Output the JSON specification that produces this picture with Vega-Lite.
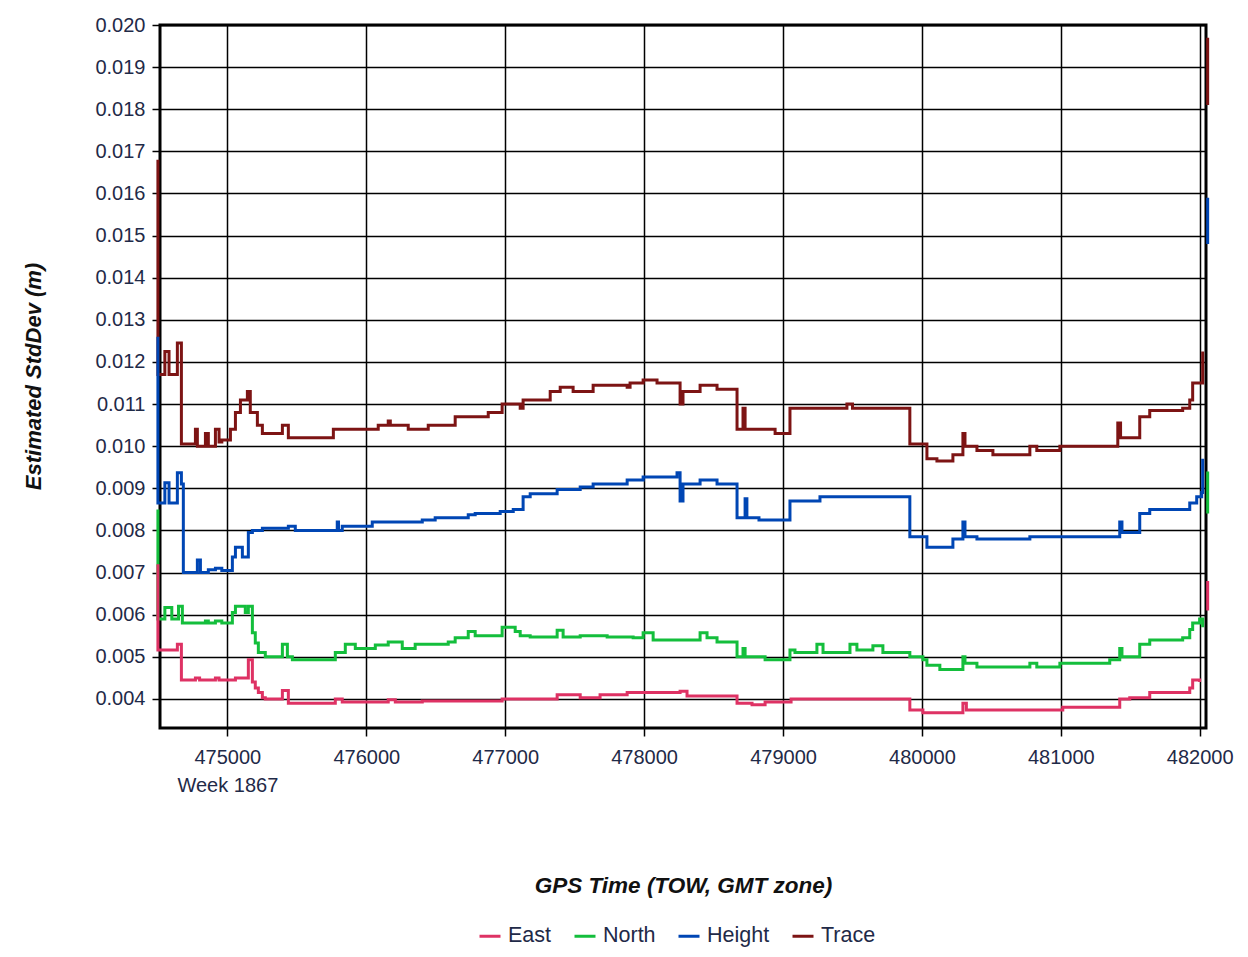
{
  "$schema": "https://vega.github.io/schema/vega-lite/v6.json",
  "width": 1046,
  "height": 703,
  "autosize": {"type": "none"},
  "padding": {"left": 160, "top": 25, "right": 42, "bottom": 229},
  "background": "white",
  "config": {
    "font": "Liberation Sans",
    "view": {"stroke": "#000000", "strokeWidth": 3},
    "axis": {"labelFont": "Liberation Sans", "titleFont": "Liberation Sans"}
  },
  "data": {
    "values": [
      {"s":"Trace","t":474500,"v":0.0168},{"s":"Trace","t":474500,"v":0.0117},{"s":"Trace","t":474550,"v":0.01225},{"s":"Trace","t":474580,"v":0.0117},{"s":"Trace","t":474640,"v":0.01245},{"s":"Trace","t":474669,"v":0.01005},{"s":"Trace","t":474770,"v":0.0104},{"s":"Trace","t":474784,"v":0.0100},{"s":"Trace","t":474842,"v":0.0103},{"s":"Trace","t":474863,"v":0.0100},{"s":"Trace","t":474914,"v":0.0104},{"s":"Trace","t":474940,"v":0.0101},{"s":"Trace","t":474960,"v":0.01015},{"s":"Trace","t":475022,"v":0.0104},{"s":"Trace","t":475058,"v":0.0108},{"s":"Trace","t":475094,"v":0.0111},{"s":"Trace","t":475144,"v":0.0113},{"s":"Trace","t":475165,"v":0.0108},{"s":"Trace","t":475216,"v":0.0105},{"s":"Trace","t":475252,"v":0.0103},{"s":"Trace","t":475396,"v":0.0105},{"s":"Trace","t":475439,"v":0.0102},{"s":"Trace","t":475763,"v":0.0104},{"s":"Trace","t":476086,"v":0.0105},{"s":"Trace","t":476158,"v":0.0106},{"s":"Trace","t":476173,"v":0.0105},{"s":"Trace","t":476302,"v":0.0104},{"s":"Trace","t":476446,"v":0.0105},{"s":"Trace","t":476640,"v":0.0107},{"s":"Trace","t":476878,"v":0.0108},{"s":"Trace","t":476978,"v":0.0110},{"s":"Trace","t":477108,"v":0.0109},{"s":"Trace","t":477129,"v":0.0111},{"s":"Trace","t":477324,"v":0.0113},{"s":"Trace","t":477396,"v":0.0114},{"s":"Trace","t":477489,"v":0.0113},{"s":"Trace","t":477633,"v":0.01145},{"s":"Trace","t":477878,"v":0.0114},{"s":"Trace","t":477899,"v":0.0115},{"s":"Trace","t":477993,"v":0.01157},{"s":"Trace","t":478093,"v":0.0115},{"s":"Trace","t":478259,"v":0.0110},{"s":"Trace","t":478280,"v":0.0113},{"s":"Trace","t":478403,"v":0.01145},{"s":"Trace","t":478525,"v":0.01135},{"s":"Trace","t":478669,"v":0.0104},{"s":"Trace","t":478712,"v":0.0109},{"s":"Trace","t":478727,"v":0.0104},{"s":"Trace","t":478943,"v":0.0103},{"s":"Trace","t":479050,"v":0.0109},{"s":"Trace","t":479460,"v":0.0110},{"s":"Trace","t":479500,"v":0.0109},{"s":"Trace","t":479913,"v":0.01005},{"s":"Trace","t":480036,"v":0.0097},{"s":"Trace","t":480108,"v":0.00965},{"s":"Trace","t":480223,"v":0.0098},{"s":"Trace","t":480295,"v":0.0103},{"s":"Trace","t":480310,"v":0.0100},{"s":"Trace","t":480396,"v":0.0099},{"s":"Trace","t":480511,"v":0.0098},{"s":"Trace","t":480777,"v":0.0100},{"s":"Trace","t":480827,"v":0.0099},{"s":"Trace","t":480993,"v":0.0100},{"s":"Trace","t":481410,"v":0.01055},{"s":"Trace","t":481430,"v":0.0102},{"s":"Trace","t":481568,"v":0.0107},{"s":"Trace","t":481640,"v":0.01085},{"s":"Trace","t":481877,"v":0.0109},{"s":"Trace","t":481928,"v":0.0111},{"s":"Trace","t":481949,"v":0.0115},{"s":"Trace","t":482021,"v":0.01225},{"s":"Trace","t":482040,"v":null},{"s":"Trace","t":482057,"v":0.0181},{"s":"Trace","t":482057,"v":0.0197},

      {"s":"Height","t":474500,"v":0.0126},{"s":"Height","t":474500,"v":0.00865},{"s":"Height","t":474550,"v":0.00913},{"s":"Height","t":474580,"v":0.00865},{"s":"Height","t":474640,"v":0.00937},{"s":"Height","t":474669,"v":0.0091},{"s":"Height","t":474683,"v":0.0070},{"s":"Height","t":474784,"v":0.0073},{"s":"Height","t":474806,"v":0.0070},{"s":"Height","t":474863,"v":0.00707},{"s":"Height","t":474914,"v":0.0071},{"s":"Height","t":474960,"v":0.00705},{"s":"Height","t":475036,"v":0.00737},{"s":"Height","t":475058,"v":0.0076},{"s":"Height","t":475108,"v":0.00737},{"s":"Height","t":475151,"v":0.00795},{"s":"Height","t":475180,"v":0.0080},{"s":"Height","t":475252,"v":0.00805},{"s":"Height","t":475439,"v":0.0081},{"s":"Height","t":475489,"v":0.0080},{"s":"Height","t":475791,"v":0.0082},{"s":"Height","t":475800,"v":0.0080},{"s":"Height","t":475827,"v":0.0081},{"s":"Height","t":476043,"v":0.0082},{"s":"Height","t":476403,"v":0.00825},{"s":"Height","t":476496,"v":0.0083},{"s":"Height","t":476734,"v":0.00837},{"s":"Height","t":476784,"v":0.0084},{"s":"Height","t":476964,"v":0.00845},{"s":"Height","t":477058,"v":0.0085},{"s":"Height","t":477129,"v":0.0088},{"s":"Height","t":477180,"v":0.00887},{"s":"Height","t":477374,"v":0.00897},{"s":"Height","t":477540,"v":0.00903},{"s":"Height","t":477633,"v":0.0091},{"s":"Height","t":477878,"v":0.0092},{"s":"Height","t":477993,"v":0.00927},{"s":"Height","t":478237,"v":0.00937},{"s":"Height","t":478259,"v":0.0087},{"s":"Height","t":478280,"v":0.0091},{"s":"Height","t":478403,"v":0.0092},{"s":"Height","t":478525,"v":0.0091},{"s":"Height","t":478669,"v":0.0083},{"s":"Height","t":478727,"v":0.00875},{"s":"Height","t":478740,"v":0.0083},{"s":"Height","t":478827,"v":0.00825},{"s":"Height","t":479050,"v":0.0087},{"s":"Height","t":479266,"v":0.0088},{"s":"Height","t":479913,"v":0.00785},{"s":"Height","t":480036,"v":0.0076},{"s":"Height","t":480223,"v":0.0078},{"s":"Height","t":480295,"v":0.0082},{"s":"Height","t":480310,"v":0.00785},{"s":"Height","t":480396,"v":0.0078},{"s":"Height","t":480777,"v":0.00785},{"s":"Height","t":481424,"v":0.0082},{"s":"Height","t":481440,"v":0.00795},{"s":"Height","t":481568,"v":0.0084},{"s":"Height","t":481640,"v":0.0085},{"s":"Height","t":481928,"v":0.00865},{"s":"Height","t":481978,"v":0.0088},{"s":"Height","t":482014,"v":0.0089},{"s":"Height","t":482021,"v":0.0097},{"s":"Height","t":482040,"v":null},{"s":"Height","t":482057,"v":0.0148},{"s":"Height","t":482057,"v":0.0159},

      {"s":"North","t":474500,"v":0.0085},{"s":"North","t":474500,"v":0.0059},{"s":"North","t":474550,"v":0.00617},{"s":"North","t":474600,"v":0.0059},{"s":"North","t":474648,"v":0.0062},{"s":"North","t":474676,"v":0.0058},{"s":"North","t":474842,"v":0.00585},{"s":"North","t":474863,"v":0.0058},{"s":"North","t":474914,"v":0.00585},{"s":"North","t":474960,"v":0.0058},{"s":"North","t":475036,"v":0.00605},{"s":"North","t":475058,"v":0.0062},{"s":"North","t":475129,"v":0.00605},{"s":"North","t":475151,"v":0.0062},{"s":"North","t":475180,"v":0.00557},{"s":"North","t":475201,"v":0.00533},{"s":"North","t":475223,"v":0.0051},{"s":"North","t":475273,"v":0.0050},{"s":"North","t":475396,"v":0.0053},{"s":"North","t":475432,"v":0.0050},{"s":"North","t":475468,"v":0.00493},{"s":"North","t":475777,"v":0.0051},{"s":"North","t":475849,"v":0.0053},{"s":"North","t":475921,"v":0.0052},{"s":"North","t":476065,"v":0.00528},{"s":"North","t":476158,"v":0.00535},{"s":"North","t":476259,"v":0.0052},{"s":"North","t":476352,"v":0.0053},{"s":"North","t":476590,"v":0.00535},{"s":"North","t":476640,"v":0.00545},{"s":"North","t":476734,"v":0.0056},{"s":"North","t":476784,"v":0.0055},{"s":"North","t":476978,"v":0.0057},{"s":"North","t":477072,"v":0.0056},{"s":"North","t":477108,"v":0.0055},{"s":"North","t":477180,"v":0.00547},{"s":"North","t":477374,"v":0.00563},{"s":"North","t":477417,"v":0.00547},{"s":"North","t":477540,"v":0.0055},{"s":"North","t":477734,"v":0.00547},{"s":"North","t":477921,"v":0.00545},{"s":"North","t":477993,"v":0.00557},{"s":"North","t":478065,"v":0.0054},{"s":"North","t":478403,"v":0.00557},{"s":"North","t":478453,"v":0.00545},{"s":"North","t":478525,"v":0.00535},{"s":"North","t":478669,"v":0.0050},{"s":"North","t":478712,"v":0.0052},{"s":"North","t":478727,"v":0.0050},{"s":"North","t":478871,"v":0.00493},{"s":"North","t":479050,"v":0.00516},{"s":"North","t":479086,"v":0.0051},{"s":"North","t":479244,"v":0.0053},{"s":"North","t":479288,"v":0.0051},{"s":"North","t":479482,"v":0.0053},{"s":"North","t":479532,"v":0.00516},{"s":"North","t":479647,"v":0.00526},{"s":"North","t":479719,"v":0.0051},{"s":"North","t":479913,"v":0.0050},{"s":"North","t":480007,"v":0.00493},{"s":"North","t":480036,"v":0.0048},{"s":"North","t":480129,"v":0.0047},{"s":"North","t":480295,"v":0.0050},{"s":"North","t":480310,"v":0.00485},{"s":"North","t":480396,"v":0.00476},{"s":"North","t":480777,"v":0.00485},{"s":"North","t":480827,"v":0.00476},{"s":"North","t":480993,"v":0.00485},{"s":"North","t":481352,"v":0.00493},{"s":"North","t":481424,"v":0.0052},{"s":"North","t":481440,"v":0.0050},{"s":"North","t":481568,"v":0.0053},{"s":"North","t":481640,"v":0.0054},{"s":"North","t":481877,"v":0.00545},{"s":"North","t":481928,"v":0.00565},{"s":"North","t":481949,"v":0.0058},{"s":"North","t":481999,"v":0.0059},{"s":"North","t":482021,"v":0.0057},{"s":"North","t":482040,"v":null},{"s":"North","t":482057,"v":0.0084},{"s":"North","t":482057,"v":0.0094},

      {"s":"East","t":474500,"v":0.0072},{"s":"East","t":474500,"v":0.00516},{"s":"East","t":474640,"v":0.0053},{"s":"East","t":474669,"v":0.00445},{"s":"East","t":474770,"v":0.0045},{"s":"East","t":474800,"v":0.00445},{"s":"East","t":474914,"v":0.0045},{"s":"East","t":474940,"v":0.00445},{"s":"East","t":475058,"v":0.0045},{"s":"East","t":475151,"v":0.00493},{"s":"East","t":475180,"v":0.0044},{"s":"East","t":475201,"v":0.00426},{"s":"East","t":475223,"v":0.00415},{"s":"East","t":475252,"v":0.00403},{"s":"East","t":475273,"v":0.0040},{"s":"East","t":475396,"v":0.0042},{"s":"East","t":475439,"v":0.0039},{"s":"East","t":475777,"v":0.0040},{"s":"East","t":475827,"v":0.00393},{"s":"East","t":476158,"v":0.00398},{"s":"East","t":476209,"v":0.00393},{"s":"East","t":476403,"v":0.00395},{"s":"East","t":476978,"v":0.0040},{"s":"East","t":477374,"v":0.0041},{"s":"East","t":477540,"v":0.00403},{"s":"East","t":477683,"v":0.0041},{"s":"East","t":477878,"v":0.00415},{"s":"East","t":478259,"v":0.00418},{"s":"East","t":478309,"v":0.00407},{"s":"East","t":478669,"v":0.0039},{"s":"East","t":478777,"v":0.00386},{"s":"East","t":478871,"v":0.00393},{"s":"East","t":479058,"v":0.0040},{"s":"East","t":479913,"v":0.00374},{"s":"East","t":480007,"v":0.00367},{"s":"East","t":480295,"v":0.0039},{"s":"East","t":480320,"v":0.00374},{"s":"East","t":481014,"v":0.0038},{"s":"East","t":481424,"v":0.0040},{"s":"East","t":481496,"v":0.00403},{"s":"East","t":481640,"v":0.00415},{"s":"East","t":481928,"v":0.00426},{"s":"East","t":481949,"v":0.00445},{"s":"East","t":481999,"v":0.0044},{"s":"East","t":482040,"v":null},{"s":"East","t":482057,"v":0.0061},{"s":"East","t":482057,"v":0.0068}
    ]
  },
  "mark": {"type": "line", "interpolate": "step-after", "strokeWidth": 3, "clip": false, "invalid": "break-paths-show-domains"},
  "encoding": {
    "x": {
      "field": "t",
      "type": "quantitative",
      "scale": {"domain": [474515, 482045], "nice": false, "zero": false},
      "axis": {
        "title": "GPS Time (TOW, GMT zone)",
        "values": [475000, 476000, 477000, 478000, 479000, 480000, 481000, 482000],
        "format": "d",
        "labelExpr": "datum.value == 475000 ? ['475000', 'Week 1867'] : datum.label",
        "labelFlush": false,
        "labelFontSize": 20,
        "labelColor": "#1f2a48",
        "labelLineHeight": 28,
        "labelPadding": 11,
        "tickSize": 8,
        "tickColor": "#000000",
        "tickWidth": 1.5,
        "domain": false,
        "grid": true,
        "gridColor": "#000000",
        "gridWidth": 1.5,
        "gridOpacity": 1,
        "titleFontSize": 22.5,
        "titleFontStyle": "italic",
        "titleFontWeight": "bold",
        "titleColor": "#111111",
        "titleY": 157,
        "titleBaseline": "middle"
      }
    },
    "y": {
      "field": "v",
      "type": "quantitative",
      "scale": {"domain": [0.00331, 0.020], "nice": false, "zero": false},
      "axis": {
        "title": "Estimated StdDev (m)",
        "values": [0.004, 0.005, 0.006, 0.007, 0.008, 0.009, 0.010, 0.011, 0.012, 0.013, 0.014, 0.015, 0.016, 0.017, 0.018, 0.019, 0.020],
        "format": ".3f",
        "labelFontSize": 20,
        "labelColor": "#1f2a48",
        "labelPadding": 7,
        "tickSize": 8,
        "tickColor": "#000000",
        "tickWidth": 1.5,
        "domain": false,
        "grid": true,
        "gridColor": "#000000",
        "gridWidth": 1.5,
        "gridOpacity": 1,
        "titleFontSize": 22,
        "titleFontStyle": "italic",
        "titleFontWeight": "bold",
        "titleColor": "#111111",
        "titleX": -127,
        "titleY": 351,
        "titleAlign": "center",
        "titleBaseline": "middle"
      }
    },
    "color": {
      "field": "s",
      "type": "nominal",
      "scale": {"domain": ["East", "North", "Height", "Trace"], "range": ["#de3264", "#14be3c", "#0046b4", "#7d1414"]},
      "legend": {
        "title": null,
        "orient": "none",
        "direction": "horizontal",
        "legendX": 318,
        "legendY": 899,
        "symbolType": "stroke",
        "symbolStrokeWidth": 3,
        "symbolSize": 441,
        "labelFontSize": 21.5,
        "labelColor": "#1f2a48",
        "labelOffset": 6,
        "columnPadding": 16,
        "padding": 0
      }
    }
  }
}
